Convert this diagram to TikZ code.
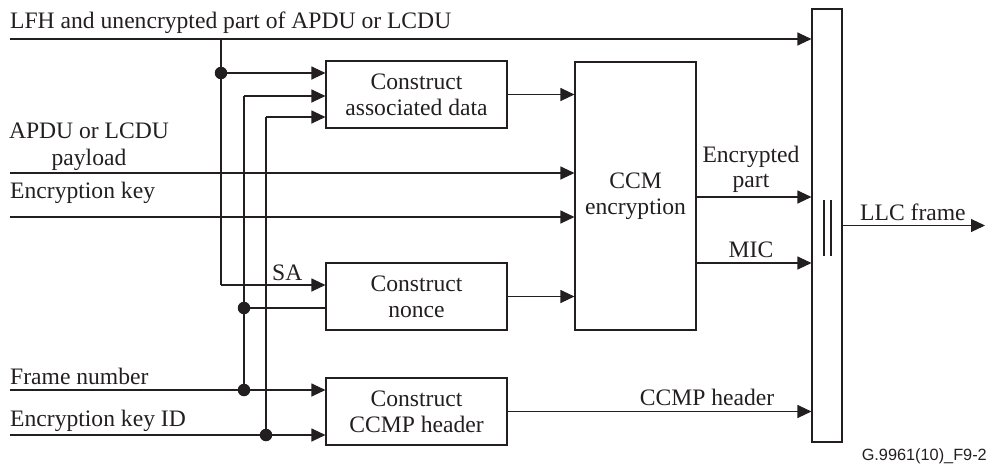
\documentclass[tikz,border=0pt]{standalone}
\usepackage{fontspec}
\setmainfont{Liberation Serif}
\newfontfamily\labsans{Liberation Sans}
\usetikzlibrary{arrows.meta}
\definecolor{ink}{RGB}{35,31,32}
\begin{document}
\begin{tikzpicture}[x=1pt,y=-1pt,
  every node/.style={font=\fontsize{23.6}{26}\selectfont, text=ink},
  blk/.style={draw=ink, line width=1.1pt, inner sep=0pt, align=center},
  wire/.style={draw=ink, line width=1.1pt},
  arr/.style={wire, -{Triangle[length=14pt,width=13pt]}},
  dot/.style={circle, fill=ink, inner sep=0pt, minimum size=12.5pt},
  lab/.style={inner sep=0pt}
]
\useasboundingbox (0,0) rectangle (989,464);

% blocks
\node[blk, minimum width=181pt, minimum height=67pt] (ad) at (416.5,94.5) {Construct\\associated data};
\node[blk, minimum width=181pt, minimum height=67pt] (nonce) at (416.5,296.5) {Construct\\nonce};
\node[blk, minimum width=181pt, minimum height=67pt] (ccmp) at (416.5,411.5) {Construct\\CCMP header};
\node[blk, minimum width=121pt, minimum height=268pt] (ccm) at (635.5,196) {CCM\\encryption};
\node[blk, minimum width=30pt, minimum height=433pt] (mux) at (827,225.5) {};

% input start coordinates
\coordinate (lfh) at (10,39);
\coordinate (pay) at (10,173);
\coordinate (key) at (10,217);
\coordinate (fn) at (10,390);
\coordinate (kid) at (10,435);
\coordinate (out) at (985,225.5);

% junction dots
\node[dot] (d1) at (221,73) {};
\node[dot] (d2) at (244,308) {};
\node[dot] (d3) at (244,390) {};
\node[dot] (d4) at (266,435) {};
\coordinate (t1) at (221,39);
\coordinate (c1) at (221,285);
\coordinate (c2) at (244,96);
\coordinate (c3) at (266,117);

% input lines
\draw[arr] (lfh) -- (mux.west |- lfh);
\draw[arr] (pay) -- (ccm.west |- pay);
\draw[arr] (key) -- (ccm.west |- key);
\draw[arr] (fn) -- (ccmp.west |- fn);
\draw[arr] (kid) -- (ccmp.west |- kid);

% distribution wires
\draw[wire] (t1) -- (c1);
\draw[arr] (c1) -- (nonce.west |- c1);
\draw[arr] (d1) -- (ad.west |- d1);
\draw[wire] (d3) -- (c2);
\draw[arr] (c2) -- (ad.west |- c2);
\draw[wire] (d2) -- (nonce.west |- d2);
\draw[wire] (d4) -- (c3);
\draw[arr] (c3) -- (ad.west |- c3);

% block outputs
\draw[arr] (ad.east) -- (ccm.west |- ad.east);
\draw[arr] (nonce.east) -- (ccm.west |- nonce.east);
\coordinate (ep) at (696,197);
\coordinate (mic) at (696,263);
\draw[arr] (ep) -- (mux.west |- ep);
\draw[arr] (mic) -- (mux.west |- mic);
\draw[arr] (ccmp.east) -- (mux.west |- ccmp.east);
\draw[arr] (mux.east) -- (out);

% mux marks
\draw[wire] (824,200) -- (824,256);
\draw[wire] (831,200) -- (831,256);

% labels
\node[lab, anchor=base west] at (10,28) {LFH and unencrypted part of APDU or LCDU};
\node[lab, anchor=base] at (89,138) {APDU or LCDU};
\node[lab, anchor=base] at (89,165) {payload};
\node[lab, anchor=base west] at (10,198) {Encryption key};
\node[lab, anchor=base west] at (10,384) {Frame number};
\node[lab, anchor=base west] at (10,426) {Encryption key ID};
\node[lab, anchor=base west] at (272,280) {SA};
\node[lab, anchor=base] at (751,162) {Encrypted};
\node[lab, anchor=base] at (751,187) {part};
\node[lab, anchor=base] at (751,257) {MIC};
\node[lab, anchor=base] at (707,405) {CCMP header};
\node[lab, anchor=base west] at (860,220) {LLC frame};
\node[lab, anchor=base east, font=\labsans\fontsize{16.3}{18}\selectfont] at (987,460) {G.9961(10)\_F9-2};
\end{tikzpicture}
\end{document}
